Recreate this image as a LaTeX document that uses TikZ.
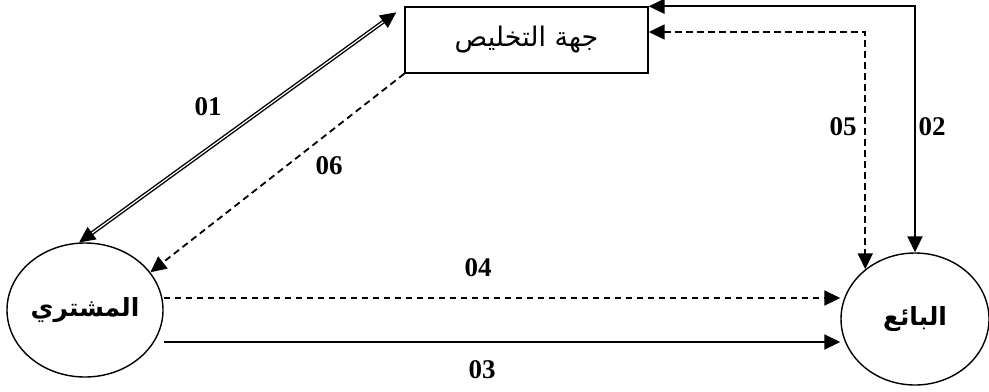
\documentclass[tikz,border=0pt]{standalone}
\usepackage{fontspec}
\setmainfont{Liberation Serif}
\newfontfamily\arabicfont[Script=Arabic]{DejaVu Sans}
\TeXXeTstate=1
\usepackage{tikz}
\usetikzlibrary{arrows.meta,positioning,shapes.geometric}

\begin{document}
\begin{tikzpicture}[x=0.5pt,y=-0.5pt,
  party/.style={draw, ellipse, line width=0.7pt, inner sep=0pt},
  flow/.style={line width=0.9pt},
  dashflow/.style={flow, dash pattern=on 3.3pt off 2.2pt},
  num/.style={font=\fontsize{13.5}{15}\selectfont\bfseries}]
\useasboundingbox (0,0) rectangle (989,391);
% the three parties
\node[draw, line width=0.7pt, minimum width=121.5pt, minimum height=33pt, inner sep=0pt,
  font=\arabicfont\fontsize{13.5}{15}\selectfont] (agent) at (526.5,40)
  {\raisebox{-4pt}{\beginR جهة التخليص\endR}};
\node[party, minimum width=78pt, minimum height=67pt,
  font=\arabicfont\bfseries\fontsize{12.5}{14}\selectfont] (buyer) at (85,310) {\beginR المشتري\endR};
\node[party, minimum width=74pt, minimum height=66pt,
  font=\arabicfont\bfseries\fontsize{12.5}{14}\selectfont] (seller) at (915,319) {\beginR البائع\endR};
% flows
\draw[flow, double, double distance=0.6pt, line width=0.7pt,
  {Triangle[length=8pt,width=7.5pt]}-{Triangle[length=8pt,width=7.5pt]}]
  (buyer.95) -- ([xshift=-4pt,yshift=-3pt]agent.north west);
\draw[flow, {Triangle[length=8pt,width=7.5pt]}-{Triangle[length=8pt,width=7.5pt]}]
  (agent.north east) -| (seller.north);
\draw[dashflow, {Triangle[length=8pt,width=7.5pt]}-{Triangle[length=8pt,width=7.5pt]}]
  ([yshift=4pt]agent.east) -| (seller.135);
\draw[dashflow, -{Triangle[length=8pt,width=7.5pt]}]
  (agent.south west) -- (buyer.30);
\coordinate (s04) at ([yshift=6pt]buyer.east);
\coordinate (s03) at ([yshift=-16pt]buyer.east);
\draw[dashflow, -{Triangle[length=8pt,width=7.5pt]}] (s04) -- (s04 -| seller.west);
\draw[flow, -{Triangle[length=8pt,width=7.5pt]}] (s03) -- (s03 -| seller.west);
% flow numbers
\foreach \nm/\px/\py in {01/208/107, 06/329/166, 05/843/127, 02/932/127, 04/478/268, 03/482/370}
  \node[num] (n\nm) at (\px,\py) {\nm};
\end{tikzpicture}
\end{document}
